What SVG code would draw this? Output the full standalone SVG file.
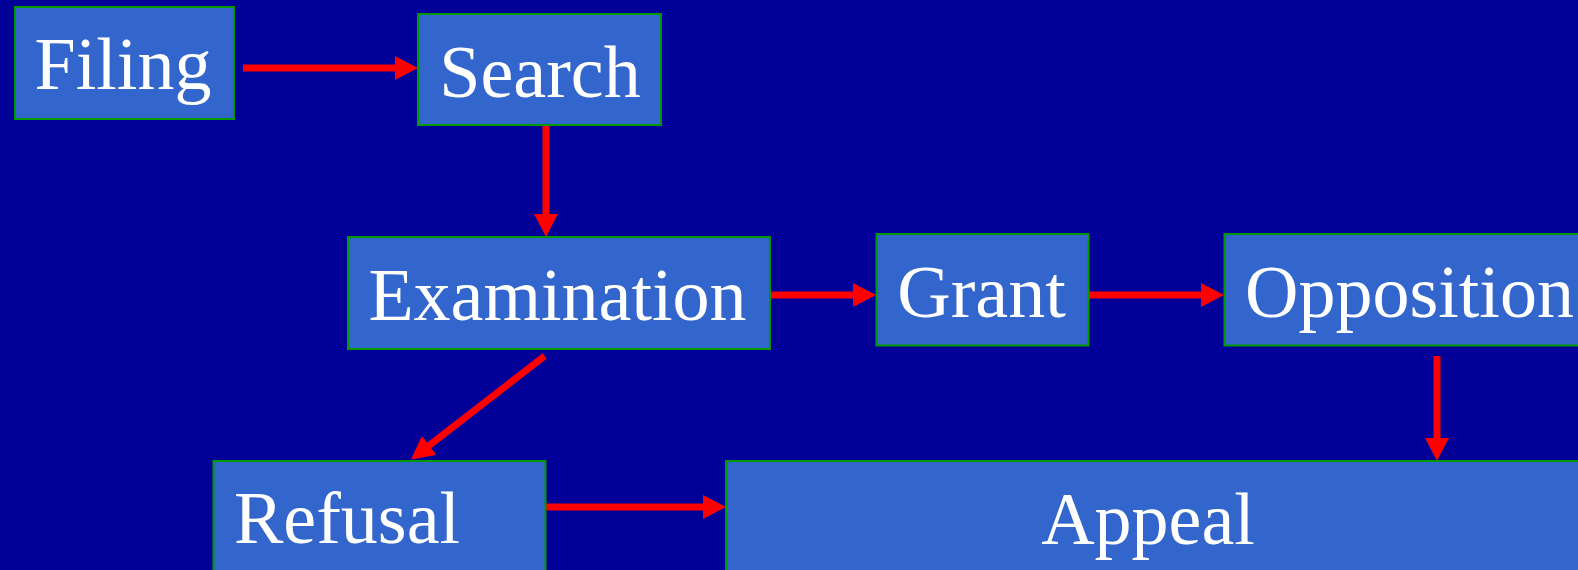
<svg xmlns="http://www.w3.org/2000/svg" width="1578" height="570" viewBox="0 0 1578 570">
  <style>
    .box { fill: #3366CC; stroke: #009900; stroke-width: 2; }
    .lbl { font-family: "Liberation Serif", "Times New Roman", serif; font-size: 74px; fill: #FFFFFF; }
    .arr { stroke: #FF0000; stroke-width: 7; fill: none; marker-end: url(#head); }
  </style>
  <defs>
    <marker id="head" markerUnits="userSpaceOnUse" markerWidth="23" markerHeight="24" refX="3" refY="12" orient="auto" viewBox="0 0 23 24">
      <path d="M0,0 L23,12 L0,24 Z" fill="#FF0000"/>
    </marker>
  </defs>
  <rect x="0" y="0" width="1578" height="570" fill="#000099"/>

  <g id="connectors">
    <line class="arr" x1="243" y1="68" x2="398" y2="68"/>
    <line class="arr" x1="546" y1="125" x2="546" y2="217"/>
    <line class="arr" x1="771" y1="295" x2="856" y2="295"/>
    <line class="arr" x1="1089" y1="295" x2="1204" y2="295"/>
    <line class="arr" x1="544.6" y1="356" x2="426.8" y2="447.3"/>
    <line class="arr" x1="545" y1="507" x2="706" y2="507"/>
    <line class="arr" x1="1437" y1="356" x2="1437" y2="441"/>
  </g>

  <g id="filing">
    <rect class="box" x="15" y="7" width="219" height="112"/>
    <text class="lbl" x="123" y="89" text-anchor="middle">Filing</text>
  </g>
  <g id="search">
    <rect class="box" x="418" y="14" width="243" height="111"/>
    <text class="lbl" x="540" y="96.5" text-anchor="middle">Search</text>
  </g>
  <g id="examination">
    <rect class="box" x="348" y="237" width="422" height="112"/>
    <text class="lbl" x="557.5" y="320" text-anchor="middle">Examination</text>
  </g>
  <g id="grant">
    <rect class="box" x="876.5" y="234" width="212" height="111.5"/>
    <text class="lbl" x="981.5" y="316.5" text-anchor="middle">Grant</text>
  </g>
  <g id="opposition">
    <rect class="box" x="1224.5" y="234" width="380" height="111.5"/>
    <text class="lbl" x="1245" y="316.5">Opposition</text>
  </g>
  <g id="refusal">
    <rect class="box" x="213.5" y="461" width="332" height="130"/>
    <text class="lbl" x="234" y="543">Refusal</text>
  </g>
  <g id="appeal">
    <rect class="box" x="726" y="461" width="880" height="130"/>
    <text class="lbl" x="1148" y="544" text-anchor="middle">Appeal</text>
  </g>
</svg>
